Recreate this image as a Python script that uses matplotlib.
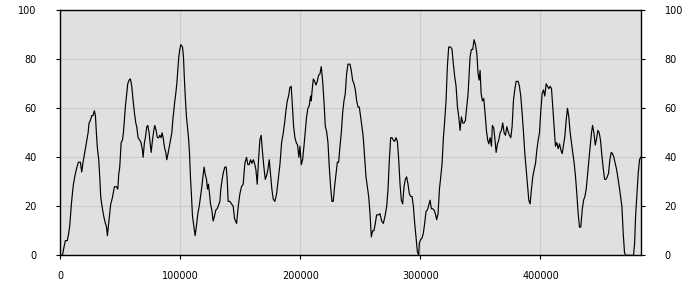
import numpy as np
import matplotlib.pyplot as plt

# x in thousands
x_k = [0, 2, 3.4, 4.5, 6.1, 7.25, 8.1, 9.5, 10.9, 12.25, 13.6, 15.3, 17.0, 18.1, 19.2,
       20.6, 22.0, 23.4, 24.2, 25.3, 26.4, 27.5, 28.6, 29.5, 30.3, 31.1, 32.25, 33.1,
       33.9, 35.0, 36.4, 37.8, 38.6, 39.5, 40.3, 41.4, 42.25, 43.4, 44.2, 45.3, 47.0,
       48.1, 48.9, 49.75, 50.9, 52.0, 52.8, 53.6, 54.5, 55.6, 56.4, 57.5, 58.6, 59.75,
       60.9, 62.0, 63.1, 63.9, 65.0, 66.4, 67.5, 68.6, 69.2, 70.3, 71.1, 72.25, 73.1,
       74.2, 75.0, 75.9, 77.0, 78.1, 78.9, 80.0, 81.1, 82.25, 83.1, 84.2, 85.0, 85.9,
       87.0, 88.1, 88.9, 89.75, 90.9, 92.0, 93.1, 93.9, 94.75, 95.6, 96.4, 97.25, 98.1,
       98.9, 99.75, 100.6, 102.0, 102.8, 103.6, 104.5, 105.3, 106.1, 107.0, 107.8,
       108.6, 109.5, 110.3, 111.4, 112.5, 113.6, 114.75, 115.9, 117.0, 118.1, 119.2,
       120.0, 120.9, 122.0, 122.8, 123.6, 124.5, 125.3, 126.4, 127.5, 128.6, 129.75,
       130.9, 132.0, 133.1, 133.9, 135.0, 136.1, 137.25, 138.4, 139.2, 140.0, 141.4,
       144.2, 145.3, 147.0, 148.4, 149.75, 151.1, 152.5, 153.9, 155.3, 156.4, 157.5,
       158.6, 159.75, 160.9, 162.0, 163.1, 164.2, 165.3, 166.4, 167.5, 168.6, 169.75,
       170.9, 172.0, 173.1, 174.2, 175.3, 176.4, 177.5, 178.9, 180.3, 181.7, 183.1,
       184.5, 185.9, 187.0, 188.1, 189.2, 190.3, 191.4, 192.5, 193.4, 194.5, 195.6,
       196.7, 197.8, 198.9, 199.75, 200.9, 202.0, 203.1, 204.2, 205.3, 206.4, 207.5,
       208.6, 209.2, 209.75, 210.9, 212.0, 213.1, 214.2, 215.3, 216.4, 217.5, 218.6,
       219.75, 220.9, 222.0, 223.1, 224.2, 225.3, 226.4, 227.5, 228.6, 229.75, 230.9,
       232.0, 233.1, 234.2, 235.3, 236.4, 237.5, 238.6, 239.75, 241.4, 242.5, 243.6,
       244.75, 245.9, 247.0, 248.1, 249.2, 250.3, 251.4, 252.5, 253.6, 254.75, 255.9,
       257.0, 258.1, 259.2, 260.3, 261.4, 262.5, 263.6, 265.3, 266.4, 267.8, 269.2,
       270.6, 272.0, 273.1, 274.2, 275.3, 276.4, 277.5, 278.6, 279.75, 280.9, 282.0,
       283.1, 284.2, 285.3, 286.4, 287.5, 288.6, 289.75, 290.9, 292.0, 293.1, 294.2,
       295.3, 296.4, 297.5, 298.6, 299.2, 300.3, 301.4, 302.5, 303.6, 304.75, 305.9,
       307.0, 308.1, 309.2, 310.3, 311.4, 312.5, 313.6, 314.75, 315.9, 317.0, 318.1,
       319.2, 320.3, 321.4, 322.5, 323.6, 325.3, 326.4, 327.5, 328.6, 329.75, 330.9,
       332.0, 333.1, 334.2, 335.3, 336.4, 337.5, 338.6, 339.75, 341.4, 342.5, 343.6,
       344.75, 345.9, 347.0, 348.1, 348.9, 349.75, 350.6, 351.7, 352.8, 353.9, 355.0,
       356.1, 357.0, 358.1, 359.2, 360.0, 361.1, 362.2, 363.1, 364.2, 365.3, 366.4,
       367.5, 368.6, 369.75, 370.9, 372.0, 373.1, 374.2, 375.3, 376.4, 377.5, 378.6,
       379.75, 381.4, 382.5, 383.6, 384.75, 385.9, 387.0, 388.1, 389.2, 390.3, 391.4,
       392.5, 393.6, 394.75, 395.9, 397.0, 398.1, 399.2, 400.3, 401.4, 402.5, 403.6,
       404.75, 405.9, 407.0, 408.1, 409.2, 410.3, 411.4, 412.5, 413.6, 414.75, 415.9,
       417.0, 418.1, 419.2, 420.3, 421.4, 422.5, 423.6, 424.75, 425.9, 427.0, 428.1,
       429.2, 430.3, 431.4, 432.5, 433.6, 434.75, 435.9, 437.0, 438.1, 439.2, 440.3,
       441.4, 442.5, 443.4, 444.5, 445.6, 446.7, 447.8, 448.9, 450.0, 451.1, 452.25,
       453.4, 454.5, 455.6, 456.7, 457.8, 458.9, 460.0, 461.1, 462.25, 463.4, 464.5,
       465.6, 466.7, 467.8, 468.9, 470.0, 471.1, 477.5, 478.4, 479.2, 480.3, 481.4,
       482.5, 483.4]

values = [0, 0, 3.5, 6, 6, 9, 12, 21, 28, 32, 35, 38, 38, 34, 38,
          42, 46, 50, 54, 55, 57, 57, 59, 57, 50, 44, 39, 32,
          24, 20, 16, 13, 12, 8, 12, 17, 21, 23, 25, 28, 28,
          27, 33, 36, 46, 47, 50, 55, 61, 66, 70, 71.5, 72, 69,
          63, 58, 54, 52.5, 48, 47, 46, 43, 40, 46, 48, 52.5, 53,
          50, 46, 42, 47, 51, 53, 51, 48, 48, 49, 48, 50, 48,
          44, 42, 39, 41, 44, 47, 50, 55, 59, 63, 66, 70, 75.5,
          81, 84, 86, 85, 81, 71.5, 63, 56.5, 52.5, 48, 42,
          32, 24, 16, 12, 8, 12, 17, 20, 24, 28, 33,
          36, 33, 31, 27, 29, 25, 21, 18.5, 14, 16, 18.5,
          19, 20.5, 22, 27, 31, 34, 36, 36, 31, 22, 22,
          20, 15, 13, 20, 25, 28, 29, 37.5, 40, 37, 37,
          39, 37.5, 39, 37.5, 35, 29, 39, 47, 49, 42, 36,
          31, 32.5, 35, 39, 33, 27, 23, 22, 25, 31, 37,
          46, 50, 54, 59, 63, 65, 68.5, 69, 61.5, 52.5, 48,
          46, 45, 40, 44.5, 37, 39, 44.5, 50.5, 56.5, 60, 61,
          65, 63, 66.5, 72, 71, 69.5, 71, 73.5, 74, 77, 71.5,
          63, 52.5, 50.5, 46, 36, 28, 22, 22, 28, 33, 38,
          38, 44.5, 50, 58, 63, 66, 74, 78, 78, 75.5, 71.5,
          70, 67.5, 63, 60.5, 60.5, 56.5, 52.5, 48, 40, 32, 28,
          24, 17, 7.5, 10, 10, 13, 16.5, 16.5, 17, 14, 13,
          16, 20, 27, 39, 48, 48, 47, 46.5, 48, 46.5, 39,
          29, 22.5, 21, 28, 31, 32, 29, 25, 24, 24, 20,
          13, 7.5, 1.5, 0, 5, 6.5, 7, 9, 13, 18, 18.5,
          20.5, 22.5, 19, 19, 18.5, 17, 14.5, 17, 27, 32, 37.5,
          48, 55, 63, 77, 85, 85, 84, 78, 73, 69, 60.5,
          56.5, 51, 56.5, 54, 54, 55, 60.5, 66, 81, 84, 84,
          88, 86, 82.5, 74, 71.5, 75.5, 66, 63, 64, 58, 51,
          47, 45.5, 48, 44.5, 53, 52, 47, 42, 45.5, 47, 50,
          51, 54, 50, 49, 52.5, 50.5, 49, 48, 52.5, 63, 67.5,
          71, 71, 69, 65, 58, 50, 41.5, 35, 28, 22.5, 21,
          27, 32, 35, 37.5, 43, 47, 50, 59, 66, 67.5, 65,
          70, 69, 68, 69, 68, 60, 52.5, 44.5, 46, 43.5, 45.5,
          43, 41.5, 45, 48.5, 55, 60, 56.5, 50, 45.5, 41.5, 37.5,
          32, 25, 17, 11.5, 11.5, 18.5, 22.5, 24, 27, 33, 39,
          44.5, 50, 53, 50, 45, 47.5, 51, 50, 47, 41, 35.5,
          31, 31, 32, 33.5, 39, 42, 41.5, 40, 37.5, 35, 31.5,
          28, 24, 20, 9, 1, 0, 0, 5, 16, 25, 33.5,
          39, 40]

x_ticks = [0, 100000, 200000, 300000, 400000]
y_ticks = [0, 20, 40, 60, 80, 100]

x = np.array(x_k) * 1000

fig = plt.figure(figsize=(7, 3), dpi=100)
ax = fig.add_axes([0.0857, 0.149, 0.8300, 0.8167])
ax.set_facecolor('#e0e0e0')
ax.plot(x, values, color='black', linewidth=0.85)

ax.set_xlim(0, 483700)
ax.set_ylim(0, 100)
ax.set_xticks(x_ticks)
ax.set_xticklabels([str(t) for t in x_ticks])
ax.set_yticks(y_ticks)
ax.grid(True, color='#cccccc', linewidth=0.8)
ax.set_axisbelow(True)

ax.tick_params(axis='y', which='both', left=True, right=True,
               labelleft=True, labelright=True, labelsize=7, pad=14,
               length=3, width=0.8, direction='out')
ax.tick_params(axis='x', labelsize=7, pad=8.5, length=3, width=0.8)
for s in ax.spines.values():
    s.set_linewidth(1.0)
    s.set_color('black')

fig.savefig('out.png', dpi=100)
